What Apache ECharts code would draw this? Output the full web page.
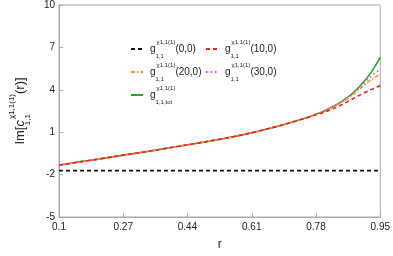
<!DOCTYPE html>
<html><head><meta charset="utf-8">
<script src="https://cdn.jsdelivr.net/npm/echarts@6/dist/echarts.min.js"></script>
<style>html,body{margin:0;padding:0;background:#fff}#c{width:393px;height:256px}</style>
</head><body><div id="c"></div>
<script>
const rVals = [0.1,0.15,0.2,0.25,0.3,0.35,0.4,0.45,0.5,0.55,0.6,0.65,0.7,0.75,0.775,0.8,0.825,0.85,0.875,0.9,0.925,0.95];
const common = [-1.33,-1.12,-0.92,-0.71,-0.5,-0.29,-0.07,0.15,0.38,0.62,0.9,1.22,1.58,1.98];
const totTail = [2.22,2.48,2.82,3.22,3.72,4.38,5.2,6.3];
const g10Tail = [2.18,2.4,2.66,2.97,3.33,3.68,4.0,4.3];
const g20Tail = [2.21,2.46,2.78,3.15,3.6,4.15,4.7,5.1];
const g30Tail = [2.22,2.47,2.8,3.19,3.67,4.28,4.95,5.45];
const g00Val = -1.72;
const xTicks = [0.1,0.27,0.44,0.61,0.78,0.95];
const yTicks = [-5,-2,1,4,7,10];
const names = ['g00','g10','g20','g30','gtot'];
const args = {g00:'(0,0)', g10:'(10,0)', g20:'(20,0)', g30:'(30,0)'};

function pairs(ys){ return rVals.map((r,i)=>[r,ys[i]]); }
const tot = common.concat(totTail), g10 = common.concat(g10Tail), g20 = common.concat(g20Tail), g30 = common.concat(g30Tail);
const g00 = rVals.map(()=>g00Val);

const rich = {
  m:{fontSize:10,color:'#222',lineHeight:20,fontFamily:'Liberation Sans'},
  sub:{fontSize:6,color:'#222',lineHeight:8,verticalAlign:'bottom',width:1,fontFamily:'Liberation Sans'},
  sup:{fontSize:6,color:'#222',lineHeight:8,verticalAlign:'top',fontFamily:'Liberation Sans'}
};
function legendFmt(n){
  if(n==='gtot') return '{m|g}{sub|1,1,tot}{sup|χ1,1(1)}';
  return '{m|g}{sub|1,1}{sup|χ1,1(1)}{m|'+args[n]+'}';
}
const pos = {g00:[125,34], g10:[200,34], g20:[125,57], g30:[200,57], gtot:[125,80]};
const legends = names.map(n=>({
  data:[n], left:pos[n][0], top:pos[n][1], itemWidth:12, itemHeight:10, itemGap:4,
  itemStyle:{opacity:0},
  formatter:legendFmt, textStyle:{rich:rich, padding:[0,0,0,2]}, selectedMode:false
}));

const chart = echarts.init(document.getElementById('c'));
chart.setOption({
  animation:false,
  grid:{left:35,right:10,top:5,bottom:36,show:true,borderColor:'#aaa',borderWidth:1},
  legend:legends,
  xAxis:{type:'value',min:0.1,max:0.95,name:'r',nameLocation:'middle',nameGap:22,
    nameTextStyle:{fontSize:12,color:'#222',fontFamily:'Liberation Sans'},
    axisLine:{onZero:false,lineStyle:{color:'#aaa'}},splitLine:{show:false},
    axisTick:{inside:true,length:4,customValues:xTicks,lineStyle:{color:'#aaa'}},
    axisLabel:{customValues:xTicks,fontSize:10,color:'#222',margin:5,fontFamily:'Liberation Sans',formatter:v=>String(v)}},
  yAxis:{type:'value',min:-5,max:10,
    name:'{m|Im[}{c|c}{sub|1,1}{sup|χ1,1(1)}{m|(r)]}',nameLocation:'middle',nameGap:27,nameRotate:90,
    nameTextStyle:{rich:{
      m:{fontSize:13,color:'#222',lineHeight:24,fontFamily:'Liberation Sans'},
      c:{fontSize:13,color:'#222',lineHeight:24,fontStyle:'italic',fontFamily:'Liberation Sans'},
      sub:{fontSize:8,color:'#222',lineHeight:10,verticalAlign:'bottom',width:1,fontFamily:'Liberation Sans'},
      sup:{fontSize:8,color:'#222',lineHeight:10,verticalAlign:'top',fontFamily:'Liberation Sans'}
    }},
    axisLine:{onZero:false,lineStyle:{color:'#aaa'}},splitLine:{show:false},
    axisTick:{inside:true,length:4,customValues:yTicks,lineStyle:{color:'#aaa'}},
    axisLabel:{customValues:yTicks,fontSize:10,color:'#222',margin:4,fontFamily:'Liberation Sans'}},
  series:[
    {name:'g00',type:'line',data:pairs(g00),symbol:'none',lineStyle:{color:'#111',width:1.6,type:[4,3]},itemStyle:{color:'#111'}},
    {name:'gtot',type:'line',data:pairs(tot),symbol:'none',smooth:0.3,lineStyle:{color:'#22aa22',width:1.6},itemStyle:{color:'#22aa22'}},
    {name:'g30',type:'line',data:pairs(g30),symbol:'none',smooth:0.3,lineStyle:{color:'#ff33ff',width:1.6,type:[1.5,3]},itemStyle:{color:'#ff33ff'}},
    {name:'g20',type:'line',data:pairs(g20),symbol:'none',smooth:0.3,lineStyle:{color:'#f7932f',width:1.6,type:[4,2,1.5,2]},itemStyle:{color:'#f7932f'}},
    {name:'g10',type:'line',data:pairs(g10),symbol:'none',smooth:0.3,lineStyle:{color:'#ff1a1a',width:1.6,type:[4,3]},itemStyle:{color:'#ff1a1a'}}
  ]
});
</script></body></html>
